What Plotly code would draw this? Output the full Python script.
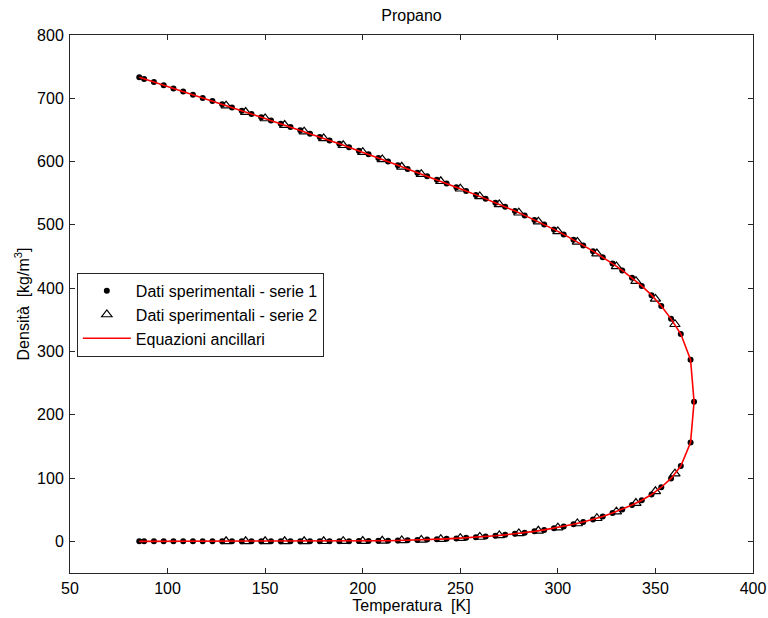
import plotly.graph_objects as go

# Propane saturation densities
# Series 1: experimental data (liquid and vapour branch), T in K, rho in kg/m^3
t_s1 = [85.5, 88, 93, 98, 103, 108, 113, 118, 123, 128, 133, 138, 143, 148, 153,
        158, 163, 168, 173, 178, 183, 188, 193, 198, 203, 208, 213, 218, 223, 228,
        233, 238, 243, 248, 253, 258, 263, 268, 273, 278, 283, 288, 293, 298, 303,
        308, 313, 318, 323, 328, 333, 338, 343, 348, 353, 358, 363, 368]
rho_liq_s1 = [733.1, 730.6, 725.6, 720.6, 715.6, 710.6, 705.6, 700.6, 695.6, 690.5,
              685.4, 680.3, 675.2, 670.1, 665.0, 659.8, 654.6, 649.4, 644.1, 638.8,
              633.4, 628.0, 622.5, 617.0, 611.4, 605.7, 600.0, 594.2, 588.3, 582.5,
              576.9, 571.2, 565.4, 559.5, 553.5, 547.4, 541.2, 534.9, 528.5, 521.9,
              515.0, 507.9, 500.5, 492.9, 485.0, 476.5, 467.6, 458.5, 449.0, 438.9,
              428.0, 416.3, 403.5, 389.0, 372.0, 351.5, 327.5, 287.0]
rho_vap_s1 = [0.0, 0.0, 0.0, 0.0, 0.0, 0.0, 0.0, 0.0, 0.0, 0.0,
              0.01, 0.01, 0.02, 0.03, 0.05, 0.07, 0.09, 0.12, 0.16, 0.2,
              0.25, 0.3, 0.36, 0.46, 0.6, 0.79, 1.02, 1.3, 1.65, 2.05,
              2.75, 3.3, 3.95, 4.7, 5.55, 6.5, 7.6, 8.85, 10.3, 11.9,
              13.7, 15.8, 18.1, 20.7, 23.6, 26.9, 30.6, 34.7, 39.4, 44.7,
              50.5, 57.3, 65.0, 74.0, 85.5, 99.5, 119.0, 156.0]

# Critical point
t_crit = 369.8
rho_crit = 220.5

# Series 2: experimental data every 10 K
t_s2 = [130, 140, 150, 160, 170, 180, 190, 200, 210, 220, 230, 240,
        250, 260, 270, 280, 290, 300, 310, 320, 330, 340, 350, 360]
rho_liq_s2 = [688.4, 678.3, 668.1, 657.7, 647.3, 636.6, 625.8, 614.8, 603.4, 591.8,
              580.2, 568.9, 557.1, 544.9, 532.3, 519.2, 505.0, 489.7, 473.0, 454.7,
              434.3, 411.0, 383.0, 343.0]
rho_vap_s2 = [0.0, 0.0, 0.01, 0.03, 0.07, 0.15, 0.28, 0.5, 0.88, 1.43,
              2.25, 3.55, 5.0, 6.9, 9.4, 12.6, 16.7, 21.7, 28.2, 36.5,
              46.9, 60.5, 79.0, 107.0]

# Ancillary equations evaluated on the series-1 temperatures
t_anc = t_s1 + [t_crit] + t_s1[::-1]
rho_anc = rho_vap_s1 + [rho_crit] + rho_liq_s1[::-1]

FONT = "Liberation Sans, Arial, sans-serif"
TXT = dict(family=FONT, size=16, color="black")

fig = go.Figure()

fig.add_trace(go.Scatter(
    x=t_s1 + [t_crit] + t_s1, y=rho_liq_s1 + [rho_crit] + rho_vap_s1,
    mode="markers", name="Dati sperimentali - serie 1",
    marker=dict(symbol="circle", size=6, color="black"),
))
fig.add_trace(go.Scatter(
    x=t_s2 + t_s2, y=rho_liq_s2 + rho_vap_s2,
    mode="markers", name="Dati sperimentali - serie 2",
    marker=dict(symbol="triangle-up-open", size=9, color="black",
                line=dict(color="black", width=1.2)),
))
fig.add_trace(go.Scatter(
    x=t_anc, y=rho_anc, mode="lines", name="Equazioni ancillari",
    line=dict(color="red", width=1.6),
))

axis_common = dict(
    showline=True, linecolor="#262626", linewidth=1, mirror="allticks",
    ticks="inside", ticklen=5, tickcolor="#262626", showgrid=False,
    zeroline=False, tickfont=TXT, automargin=False,
)

fig.update_layout(
    width=768, height=618,
    margin=dict(l=70, r=15, t=35, b=45),
    paper_bgcolor="white", plot_bgcolor="white",
    font=TXT,
    title=dict(text="Propano", x=0.5, xref="paper", xanchor="center",
               y=1, yref="container", yanchor="top", pad=dict(t=10),
               font=TXT),
    xaxis=dict(range=[50, 400], tickvals=[50, 100, 150, 200, 250, 300, 350, 400],
               ticklabelstandoff=1,
               title=dict(text="Temperatura  [K]", standoff=1, font=TXT),
               **axis_common),
    yaxis=dict(range=[-50, 800], tickvals=[0, 100, 200, 300, 400, 500, 600, 700, 800],
               ticklabelstandoff=2,
               title=dict(text="Densità  [kg/m<sup>3</sup>]", standoff=3, font=TXT),
               **axis_common),
    legend=dict(x=0.01, y=0.558, xanchor="left", yanchor="top",
                bgcolor="white", bordercolor="#262626", borderwidth=1,
                font=TXT, itemwidth=48, tracegroupgap=0),
    showlegend=True,
)

fig.write_html("out.html")
